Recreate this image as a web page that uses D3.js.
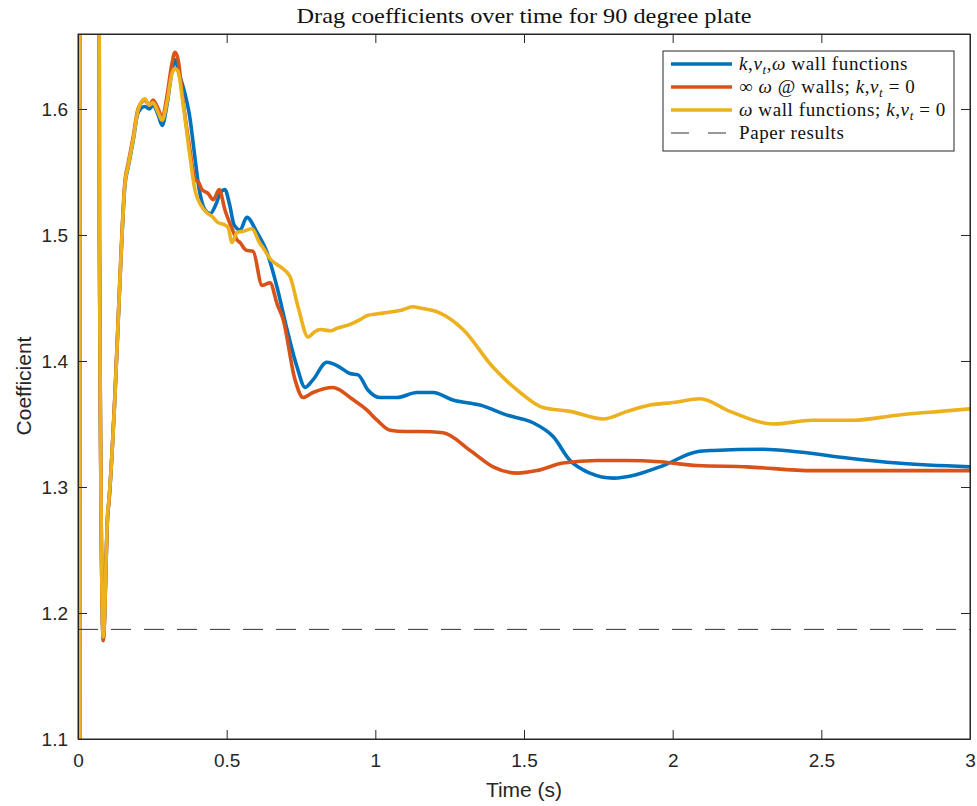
<!DOCTYPE html>
<html>
<head>
<meta charset="utf-8">
<script src="https://cdn.jsdelivr.net/npm/d3@7"></script>
<style>
  html, body { margin: 0; padding: 0; background: #fff; }
  svg { display: block; }
</style>
</head>
<body>
<script>
// ---------- DATA ----------
const titleText = "Drag coefficients over time for 90 degree plate";
const xLabel = "Time (s)";
const yLabel = "Coefficient";
const xTicks = [0, 0.5, 1, 1.5, 2, 2.5, 3];
const yTicks = [1.1, 1.2, 1.3, 1.4, 1.5, 1.6];
const paperResult = 1.187;

const blueTime = [0.0065,0.007,0.068,0.072,0.085,0.100,0.104,0.124,0.141,0.158,0.168,0.185,0.202,0.225,0.240,0.252,0.270,0.283,0.299,0.316,0.326,0.340,0.360,0.375,0.394,0.405,0.427,0.445,0.465,0.480,0.494,0.510,0.525,0.545,0.568,0.602,0.636,0.669,0.703,0.737,0.764,0.790,0.837,0.881,0.915,0.942,0.975,1.016,1.073,1.140,1.194,1.261,1.352,1.443,1.530,1.598,1.655,1.722,1.800,1.880,1.968,2.082,2.136,2.304,2.418,2.587,2.755,3.0];
const blueCoef = [0.9,3.0,2.5,1.5,1.180,1.279,1.289,1.371,1.463,1.540,1.553,1.574,1.597,1.602,1.600,1.603,1.595,1.587,1.603,1.630,1.639,1.628,1.612,1.595,1.560,1.540,1.520,1.517,1.525,1.534,1.536,1.524,1.508,1.504,1.514,1.502,1.486,1.459,1.425,1.395,1.379,1.385,1.399,1.395,1.390,1.389,1.377,1.371,1.371,1.375,1.375,1.369,1.365,1.357,1.351,1.340,1.321,1.311,1.307,1.310,1.317,1.328,1.329,1.330,1.328,1.323,1.319,1.316];

const redTime = [0.0065,0.007,0.068,0.072,0.085,0.100,0.104,0.124,0.141,0.158,0.168,0.185,0.202,0.225,0.240,0.252,0.270,0.283,0.299,0.316,0.326,0.336,0.353,0.375,0.394,0.405,0.417,0.437,0.455,0.475,0.494,0.520,0.535,0.545,0.565,0.589,0.619,0.646,0.670,0.690,0.730,0.757,0.790,0.858,0.880,0.915,0.972,1.006,1.050,1.100,1.150,1.228,1.319,1.396,1.477,1.544,1.631,1.746,1.847,1.958,2.082,2.250,2.472,3.0];
const redCoef = [0.9,3.0,2.5,1.5,1.178,1.278,1.288,1.372,1.466,1.543,1.556,1.577,1.600,1.607,1.603,1.607,1.600,1.593,1.610,1.636,1.645,1.640,1.607,1.570,1.544,1.542,1.536,1.533,1.528,1.536,1.520,1.504,1.496,1.494,1.488,1.487,1.460,1.462,1.445,1.433,1.385,1.371,1.375,1.379,1.377,1.371,1.361,1.353,1.345,1.344,1.344,1.343,1.329,1.316,1.311,1.313,1.319,1.321,1.321,1.320,1.317,1.316,1.313,1.313];

const yellowTime = [0.0065,0.007,0.068,0.072,0.085,0.100,0.104,0.124,0.141,0.158,0.168,0.185,0.202,0.225,0.240,0.252,0.270,0.283,0.299,0.316,0.326,0.336,0.353,0.375,0.394,0.410,0.437,0.450,0.470,0.494,0.505,0.518,0.535,0.556,0.585,0.610,0.622,0.650,0.679,0.713,0.740,0.774,0.795,0.814,0.850,0.871,0.915,0.950,0.972,1.026,1.083,1.127,1.150,1.194,1.218,1.295,1.396,1.487,1.564,1.655,1.766,1.847,1.924,2.001,2.092,2.193,2.304,2.338,2.472,2.607,2.755,2.899,3.0];
const yellowCoef = [0.9,3.0,2.5,1.5,1.181,1.280,1.290,1.370,1.464,1.541,1.554,1.575,1.599,1.608,1.603,1.605,1.597,1.591,1.605,1.628,1.632,1.630,1.605,1.565,1.535,1.525,1.517,1.515,1.510,1.508,1.506,1.494,1.502,1.503,1.505,1.494,1.490,1.480,1.475,1.467,1.443,1.419,1.423,1.425,1.424,1.426,1.429,1.433,1.436,1.438,1.440,1.443,1.442,1.440,1.438,1.425,1.395,1.375,1.363,1.360,1.354,1.360,1.365,1.367,1.370,1.360,1.351,1.350,1.353,1.353,1.357,1.360,1.362];

const seriesNames = ["blue", "red", "yellow"];
const seriesColors = ["#0072BD", "#D95319", "#EDB120"];

// ---------- LAYOUT ----------
const W = 977, H = 806;
const plot = { left: 78, right: 970, top: 34, bottom: 739 };
const axisColor = "#262626";

const svg = d3.select("body").append("svg").attr("width", W).attr("height", H);

const x = d3.scaleLinear().domain([0, 3]).range([plot.left, plot.right]);
const y = d3.scaleLinear().domain([1.1, 1.6595]).range([plot.bottom, plot.top]);

svg.append("defs").append("clipPath").attr("id", "clip")
  .append("rect").attr("x", plot.left).attr("y", plot.top)
  .attr("width", plot.right - plot.left).attr("height", plot.bottom - plot.top);

svg.append("rect").attr("x", plot.left).attr("y", plot.top)
  .attr("width", plot.right - plot.left).attr("height", plot.bottom - plot.top)
  .attr("fill", "#fff");

// lines
const lineGen = d3.line().x(d => x(d[0])).y(d => y(d[1])).curve(d3.curveMonotoneX);
const seriesData = [
  d3.zip(blueTime, blueCoef),
  d3.zip(redTime, redCoef),
  d3.zip(yellowTime, yellowCoef)
];
const gLines = svg.append("g").attr("clip-path", "url(#clip)");
seriesData.forEach((d, i) => {
  gLines.append("path").datum(d)
    .attr("d", lineGen)
    .attr("fill", "none")
    .attr("stroke", seriesColors[i])
    .attr("stroke-width", 3.6)
    .attr("stroke-linejoin", "round")
    .attr("stroke-linecap", "round");
});
gLines.append("line")
  .attr("x1", plot.left).attr("x2", plot.right)
  .attr("y1", y(paperResult)).attr("y2", y(paperResult))
  .attr("stroke", "#333").attr("stroke-width", 1)
  .attr("stroke-dasharray", "20,13");

// axes
function styleAxis(g) {
  g.selectAll(".domain").attr("stroke", axisColor);
  g.selectAll(".tick line").attr("stroke", axisColor);
  g.selectAll(".tick text").attr("fill", axisColor)
    .style("font-family", "'Liberation Sans', Arial, Helvetica, sans-serif")
    .style("font-size", "19px");
}
const gx = svg.append("g").attr("transform", `translate(0,${plot.bottom})`)
  .call(d3.axisBottom(x).tickValues(xTicks).tickSize(-9).tickSizeOuter(0).tickPadding(15)
    .tickFormat(d => d3.format("")(d)));
styleAxis(gx);
const gxt = svg.append("g").attr("transform", `translate(0,${plot.top})`)
  .call(d3.axisTop(x).tickValues(xTicks).tickSize(-9).tickSizeOuter(0).tickFormat(""));
styleAxis(gxt);
const gy = svg.append("g").attr("transform", `translate(${plot.left},0)`)
  .call(d3.axisLeft(y).tickValues(yTicks).tickSize(-9).tickSizeOuter(0).tickPadding(10)
    .tickFormat(d3.format(".1f")));
styleAxis(gy);
const gyr = svg.append("g").attr("transform", `translate(${plot.right},0)`)
  .call(d3.axisRight(y).tickValues(yTicks).tickSize(-9).tickSizeOuter(0).tickFormat(""));
styleAxis(gyr);

svg.append("rect").attr("x", plot.left).attr("y", plot.top)
  .attr("width", plot.right - plot.left).attr("height", plot.bottom - plot.top)
  .attr("fill", "none").attr("stroke", axisColor).attr("stroke-width", 1);

// title and labels
svg.append("text").attr("x", (plot.left + plot.right) / 2).attr("y", 23)
  .attr("text-anchor", "middle")
  .attr("textLength", 455).attr("lengthAdjust", "spacingAndGlyphs")
  .style("font-family", "'Liberation Serif', 'DejaVu Serif', serif")
  .style("font-size", "21px").attr("fill", "#111")
  .text(titleText);

svg.append("text").attr("x", (plot.left + plot.right) / 2).attr("y", 797)
  .attr("text-anchor", "middle")
  .style("font-family", "'Liberation Sans', Arial, sans-serif")
  .style("font-size", "21px").attr("fill", axisColor)
  .text(xLabel);

svg.append("text").attr("transform", `translate(31,386) rotate(-90)`)
  .attr("text-anchor", "middle")
  .style("font-family", "'Liberation Sans', Arial, sans-serif")
  .style("font-size", "21px").attr("fill", axisColor)
  .text(yLabel);

// legend
const legend = { x: 663, y: 51, w: 291, h: 100 };
const lg = svg.append("g");
lg.append("rect").attr("x", legend.x).attr("y", legend.y)
  .attr("width", legend.w).attr("height", legend.h)
  .attr("fill", "#fff").attr("stroke", axisColor).attr("stroke-width", 1);

const I = s => ({ t: s, it: true });
const N = s => ({ t: s });
const S = s => ({ t: s, it: true, sub: true });
const legendLabels = [
  [I("k"), N(","), I("ν"), S("t"), N(","), I("ω"), N(" wall functions")],
  [N("∞ "), I("ω"), N(" @ walls; "), I("k"), N(","), I("ν"), S("t"), N(" = 0")],
  [I("ω"), N(" wall functions; "), I("k"), N(","), I("ν"), S("t"), N(" = 0")],
  [N("Paper results")]
];
const rowY = [64, 87, 110, 133];
legendLabels.forEach((segs, i) => {
  const ly = rowY[i];
  if (i < 3) {
    lg.append("line").attr("x1", 671).attr("x2", 732).attr("y1", ly).attr("y2", ly)
      .attr("stroke", seriesColors[i]).attr("stroke-width", 3.6);
  } else {
    lg.append("line").attr("x1", 671).attr("x2", 732).attr("y1", ly).attr("y2", ly)
      .attr("stroke", "#333").attr("stroke-width", 1).attr("stroke-dasharray", "18,19");
  }
  const t = lg.append("text").attr("x", 739).attr("y", ly + 6)
    .style("font-family", "'Liberation Serif', 'DejaVu Serif', serif")
    .style("font-size", "19px").style("letter-spacing", "0.6px").attr("fill", "#111");
  let shifted = false;
  segs.forEach(s => {
    const ts = t.append("tspan").text(s.t);
    if (s.it) ts.style("font-style", "italic");
    if (s.sub) { ts.attr("dy", 4).style("font-size", "13px"); shifted = true; }
    else if (shifted) { ts.attr("dy", -4); shifted = false; }
  });
});
</script>
</body>
</html>
